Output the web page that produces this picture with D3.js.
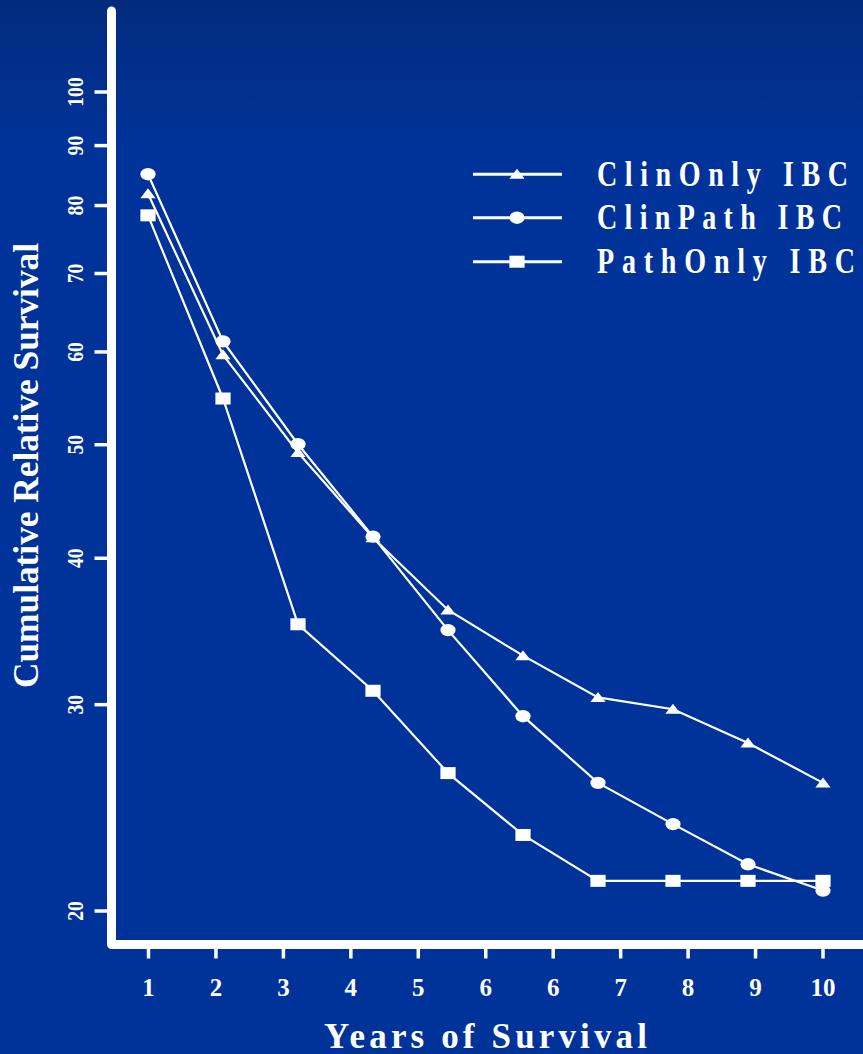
<!DOCTYPE html>
<html>
<head>
<meta charset="utf-8">
<script src="https://cdn.jsdelivr.net/npm/d3@7"></script>
<style>
  html, body { margin: 0; padding: 0; background: #003399; }
  svg { display: block; }
  text { font-family: "Liberation Serif", "Times New Roman", serif; font-weight: bold; fill: #fff; }
</style>
</head>
<body>
<svg id="chart" width="863" height="1054"></svg>
<script>
// Survival years for each plotted point
const years = [1, 2, 3, 4, 5, 6, 7, 8, 9, 10];

// Cumulative relative survival (%) by diagnosis group
const clinOnly = [81.8, 59.6, 49.2, 41.6, 36.1, 33.0, 30.4, 29.7, 27.8, 25.7];
const clinPath = [85.0, 61.2, 50.0, 41.7, 34.7, 29.3, 25.7, 23.7, 21.9, 20.8];
const pathOnly = [78.4, 54.7, 35.1, 30.8, 26.2, 23.2, 21.2, 21.2, 21.2, 21.2];

const seriesNames = ["ClinOnly IBC", "ClinPath IBC", "PathOnly IBC"];
const seriesSymbols = ["triangle", "circle", "square"];

// Axis tick labels
const yTicks = [20, 30, 40, 50, 60, 70, 80, 90, 100];
const xTickLabels = ["1", "2", "3", "4", "5", "6", "6", "7", "8", "9", "10"];

const series = [clinOnly, clinPath, pathOnly].map((vals, i) => ({
  name: seriesNames[i],
  symbol: seriesSymbols[i],
  points: vals.map((v, j) => ({ year: years[j], value: v }))
}));

const W = 863, H = 1054;
const svg = d3.select("#chart");

// Background with a slightly darker band at the top
const defs = svg.append("defs");
const grad = defs.append("linearGradient").attr("id", "bg").attr("x1", 0).attr("y1", 0).attr("x2", 0).attr("y2", 1);
grad.append("stop").attr("offset", "0%").attr("stop-color", "#022b7d");
grad.append("stop").attr("offset", "14%").attr("stop-color", "#003399");
grad.append("stop").attr("offset", "100%").attr("stop-color", "#003399");
svg.append("rect").attr("width", W).attr("height", H).attr("fill", "url(#bg)");

// Scales
const axisX = 111.5, axisY = 944.5;
const x = d3.scaleLinear().domain([1, 10]).range([148, 823]);
const xTickPos = d3.scalePoint().domain(d3.range(xTickLabels.length)).range([148, 822.5]);
const y = d3.scaleLog().domain([20, 100]).range([910.5, 91.5]);

// Axis frame (L-shaped, thick white)
svg.append("path")
  .attr("d", `M${axisX},11 L${axisX},${axisY} L${W + 10},${axisY}`)
  .attr("fill", "none").attr("stroke", "#fff").attr("stroke-width", 9)
  .attr("stroke-linejoin", "round").attr("stroke-linecap", "round");

// Y axis ticks and rotated labels
const gy = svg.append("g").attr("transform", `translate(${axisX},0)`)
  .call(d3.axisLeft(y).tickValues(yTicks).tickSize(17).tickFormat(d3.format("d")));
gy.select(".domain").remove();
gy.selectAll(".tick line").attr("stroke", "#fff").attr("stroke-width", 3.5);
gy.selectAll(".tick text")
  .attr("x", null).attr("dy", null)
  .attr("transform", "translate(-29,0) rotate(-90) scale(0.82,1)")
  .attr("text-anchor", "middle")
  .style("font-size", "24px").style("font-family", null).attr("fill", "#fff");

// X axis ticks and labels
const gx = svg.append("g").attr("transform", `translate(0,${axisY})`)
  .call(d3.axisBottom(xTickPos).tickSize(14).tickFormat(i => xTickLabels[i]));
gx.select(".domain").remove();
gx.selectAll(".tick line").attr("y1", 4).attr("stroke", "#fff").attr("stroke-width", 3.5);
gx.selectAll(".tick text")
  .attr("y", 51.5).attr("dy", null)
  .attr("text-anchor", "middle")
  .style("font-size", "25px").style("font-family", null).attr("fill", "#fff");

// Axis titles
svg.append("text")
  .attr("transform", "translate(38,465.5) rotate(-90)")
  .attr("text-anchor", "middle")
  .attr("textLength", 445).attr("lengthAdjust", "spacingAndGlyphs")
  .style("font-size", "36px")
  .text("Cumulative Relative Survival");

svg.append("text")
  .attr("x", 324).attr("y", 1048)
  .attr("textLength", 323).attr("lengthAdjust", "spacing")
  .style("font-size", "35px")
  .text("Years of Survival");

// Marker shapes
function drawMarker(sel, kind) {
  if (kind === "triangle") {
    sel.append("path").attr("d", "M0,-5.5L7.6,4.5L-7.6,4.5Z").attr("fill", "#fff");
  } else if (kind === "circle") {
    sel.append("ellipse").attr("rx", 7.6).attr("ry", 6.2).attr("fill", "#fff");
  } else {
    sel.append("rect").attr("x", -7.6).attr("y", -6).attr("width", 15.2).attr("height", 12).attr("fill", "#fff");
  }
}

// Lines and markers
const line = d3.line().x(d => x(d.year)).y(d => y(d.value));
const gSeries = svg.append("g");
series.forEach(s => {
  gSeries.append("path").datum(s.points)
    .attr("d", line).attr("fill", "none")
    .attr("stroke", "#fff").attr("stroke-width", 2.2);
});
series.forEach(s => {
  gSeries.selectAll(null).data(s.points).enter().append("g")
    .attr("transform", d => `translate(${x(d.year)},${y(d.value)})`)
    .each(function () { drawMarker(d3.select(this), s.symbol); });
});

// Legend
const legendLineY = [174.3, 217.7, 261.7];
const legendLengths = [251, 245, 258];
const squeeze = 0.78;
const legend = svg.append("g");
series.forEach((s, i) => {
  const ly = legendLineY[i];
  legend.append("line").attr("x1", 473).attr("x2", 562).attr("y1", ly).attr("y2", ly)
    .attr("stroke", "#fff").attr("stroke-width", 3);
  const m = legend.append("g").attr("transform", `translate(517,${ly})`);
  drawMarker(m, s.symbol);
  legend.append("text")
    .attr("transform", `translate(597,${ly + 11.7}) scale(${squeeze},1)`)
    .attr("textLength", legendLengths[i] / squeeze).attr("lengthAdjust", "spacing")
    .style("font-size", "36px")
    .text(s.name);
});
</script>
</body>
</html>
